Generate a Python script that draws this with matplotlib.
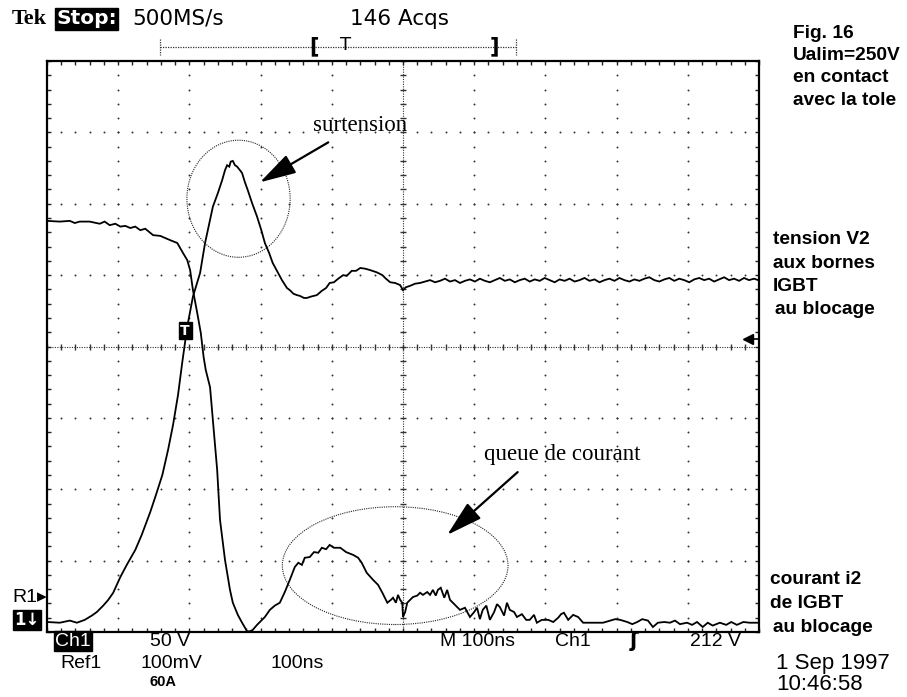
import numpy as np
import matplotlib
matplotlib.use("Agg")
import matplotlib.pyplot as plt
from matplotlib.patches import Ellipse
from matplotlib.lines import Line2D

# ---------------- data (time in ns, screen position in divisions from centre) ----------------
i2_t = [0,18,32,39,46,60,74,81,88,96,
        103,110,117,124,131,138,149,159,166,173,
        183,191,197,201,205,211,216,220,223,229,
        233,239,243,250,257,261,268,274,281,285,
        289,295,302,306,313,320,327,334,341,348,
        353,358,362,369,375,381,386,392,397,403,
        412,420,430,437,442,449,458,465,471,478,
        483,486,490,493,496,499,500,503,506,510,
        514,520,524,528,534,538,542,546,549,553,
        558,562,566,573,580,587,594,600,604,608,
        612,617,622,628,632,636,642,646,650,656,
        660,667,673,678,684,688,695,704,711,718,
        722,726,732,739,746,753,763,772,781,791,
        798,805,815,822,829,836,844,851,858,867,
        875,882,889,899,906,913,921,928,935,945,
        954,961,969,978,987,999]
i2_div = [1.76,1.75,1.76,1.73,1.75,1.75,1.72,1.75,1.70,1.72,
          1.68,1.69,1.66,1.68,1.63,1.65,1.56,1.55,1.52,1.49,
          1.45,1.31,1.21,1.07,0.79,0.47,0.19,-0.15,-0.33,-0.57,
          -1.03,-1.73,-2.43,-2.99,-3.41,-3.59,-3.76,-3.87,-3.99,-3.99,
          -3.97,-3.90,-3.83,-3.79,-3.69,-3.63,-3.59,-3.44,-3.27,-3.09,
          -3.03,-3.06,-2.96,-2.95,-2.88,-2.89,-2.82,-2.84,-2.78,-2.82,
          -2.82,-2.88,-2.92,-2.96,-3.03,-3.17,-3.27,-3.34,-3.45,-3.59,
          -3.55,-3.52,-3.59,-3.48,-3.55,-3.59,-3.79,-3.72,-3.59,-3.55,
          -3.51,-3.49,-3.45,-3.48,-3.44,-3.48,-3.41,-3.49,-3.41,-3.38,
          -3.52,-3.41,-3.55,-3.62,-3.69,-3.66,-3.79,-3.72,-3.66,-3.82,
          -3.69,-3.63,-3.83,-3.72,-3.61,-3.65,-3.77,-3.59,-3.69,-3.72,
          -3.79,-3.75,-3.83,-3.83,-3.76,-3.87,-3.83,-3.83,-3.86,-3.80,
          -3.75,-3.73,-3.83,-3.76,-3.79,-3.87,-3.87,-3.87,-3.87,-3.84,
          -3.82,-3.83,-3.86,-3.89,-3.86,-3.82,-3.84,-3.93,-3.87,-3.86,
          -3.87,-3.84,-3.89,-3.87,-3.90,-3.86,-3.93,-3.87,-3.91,-3.87,
          -3.90,-3.86,-3.90,-3.86,-3.87,-3.87]

v2_t = [0,18,32,42,53,63,70,79,86,93,
        98,103,112,124,133,145,153,162,170,177,
        184,190,197,205,215,222,233,240,246,250,
        253,256,258,261,264,267,271,274,278,282,
        288,295,301,306,312,317,324,330,337,341,
        346,351,355,361,365,371,375,379,386,392,
        397,403,409,416,421,428,434,440,447,454,
        463,471,476,482,489,496,500,504,510,517,
        524,
        531,538,545,552,559,566,573,580,587,594,
        601,608,615,622,629,636,643,650,657,664,
        671,678,685,692,699,706,713,720,727,734,
        741,748,755,762,769,776,783,790,797,804,
        811,818,825,832,839,846,853,860,867,874,
        881,888,895,902,909,916,923,930,937,944,
        951,958,965,972,979,986,993,999]
v2_div = [-3.86,-3.87,-3.84,-3.87,-3.83,-3.77,-3.72,-3.63,-3.55,-3.45,
          -3.34,-3.23,-3.06,-2.85,-2.64,-2.32,-2.08,-1.80,-1.45,-1.10,
          -0.68,-0.22,0.28,0.70,1.03,1.45,1.96,2.15,2.33,2.47,
          2.54,2.52,2.59,2.60,2.54,2.52,2.47,2.43,2.30,2.19,
          2.01,1.82,1.63,1.45,1.31,1.17,1.04,0.93,0.82,0.79,
          0.74,0.72,0.71,0.68,0.68,0.70,0.71,0.72,0.78,0.82,
          0.89,0.90,0.95,1.00,0.99,1.06,1.06,1.10,1.09,1.07,
          1.04,1.00,0.95,0.90,0.89,0.86,0.79,0.83,0.85,0.88,
          0.89,
          0.91,0.93,0.90,0.92,0.95,0.91,0.93,0.89,0.92,0.94,
          0.91,0.95,0.92,0.90,0.93,0.96,0.92,0.94,0.90,0.93,
          0.95,0.91,0.94,0.92,0.96,0.93,0.90,0.94,0.92,0.95,
          0.91,0.93,0.96,0.92,0.94,0.90,0.93,0.95,0.92,0.96,
          0.93,0.91,0.94,0.92,0.95,0.97,0.93,0.91,0.94,0.96,
          0.92,0.95,0.93,0.90,0.94,0.96,0.93,0.95,0.91,0.94,
          0.97,0.93,0.95,0.92,0.96,0.93,0.95,0.93]

trig_t = 194           # trigger point (T marker)
trig_level_div = 0.10  # trigger level arrow on right edge

top_text = ["Tek", "Stop:", "500MS/s", "146 Acqs"]
fig_text = ["Fig. 16", "Ualim=250V", "en contact", "avec la tole"]
v_label = ["tension V2", "aux bornes", "IGBT", "au blocage"]
i_label = ["courant i2", "de IGBT", "au blocage"]
bottom_row1 = ["Ch1", "50 V", "M 100ns", "Ch1", "\u0283", "212 V"]
bottom_row2 = ["Ref1", "100mV", "100ns"]
date_text = ["1 Sep 1997", "10:46:58"]

# ---------------- figure ----------------
W, H = 907, 697
fig = plt.figure(figsize=(W / 100, H / 100), dpi=100, facecolor="white")

def fx(x):
    return x / W

def fy(y):
    return 1 - y / H

L, R, T, B = 47, 759, 61, 632
ax = fig.add_axes([fx(L), fy(B), (R - L) / W, (B - T) / H])
ax.set_xlim(0, 1000)
ax.set_ylim(-4, 4)
for s in ax.spines.values():
    s.set_linewidth(1.6)
    s.set_color("black")

# border minor ticks (5 per division)
ax.set_xticks(np.arange(0, 1001, 20))
ax.set_yticks(np.arange(-4, 4.01, 0.2))
ax.tick_params(direction="in", length=3, width=1, top=True, right=True,
               labelbottom=False, labelleft=False, colors="#222222")

dot_kw = dict(ls="none", marker="o", ms=1.4, mew=0, color="#333333", zorder=1)
ys = np.arange(-4, 4.01, 0.2)
xs = np.arange(0, 1001, 20)
for xv in range(100, 1000, 100):
    if xv == 500:
        continue
    ax.plot([xv] * len(ys), ys, **dot_kw)
for yv in [-3, -2, -1, 1, 2, 3]:
    ax.plot(xs, [yv] * len(xs), **dot_kw)

# centre cross: fine dotted lines with tick marks
ax.plot([0, 1000], [0, 0], ls=(0, (1, 1.2)), lw=0.8, color="#333333", zorder=1)
ax.plot([500, 500], [-4, 4], ls=(0, (1, 1.2)), lw=0.8, color="#333333", zorder=1)
ax.plot(xs, [0] * len(xs), ls="none", marker="|", ms=5, mew=1.0, color="#333333", zorder=1)
ax.plot([500] * len(ys), ys, ls="none", marker="_", ms=5, mew=1.0, color="#333333", zorder=1)

# traces
ax.plot(v2_t, v2_div, color="black", lw=1.3, zorder=3, solid_joinstyle="miter")
ax.plot(i2_t, i2_div, color="black", lw=1.3, zorder=3, solid_joinstyle="miter")

# annotation ellipses and arrows
ax.add_patch(Ellipse((269, 2.07), 145, 1.64, fill=False, ls=(0, (1, 1)), lw=0.8, color="#222222"))
ax.add_patch(Ellipse((489, -3.07), 317, 1.65, fill=False, ls=(0, (1, 1)), lw=0.8, color="#222222"))
arrow_kw = dict(arrowstyle="-|>,head_length=1.6,head_width=0.45", color="black", lw=1.6,
                mutation_scale=14, shrinkA=0, shrinkB=0)
ax.annotate("", xy=(299, 2.30), xytext=(395, 2.86), arrowprops=arrow_kw)
ax.annotate("", xy=(562, -2.64), xytext=(661, -1.76), arrowprops=arrow_kw)
ax.text(440, 3.10, "surtension", family="Liberation Serif", fontsize=16.5, ha="center", va="center")
ax.text(723, -1.52, "queue de courant", family="Liberation Serif", fontsize=16.5, ha="center", va="center")

# trigger marker and level arrow
ax.text(trig_t, 0.22, "T", color="white", fontsize=10, fontweight="bold",
        ha="center", va="center", family="DejaVu Sans",
        bbox=dict(facecolor="black", edgecolor="black", pad=1.2))
ax.plot([985], [trig_level_div], marker="<", ms=7, color="black", zorder=4, clip_on=False)
ax.plot([985, 1000], [trig_level_div, trig_level_div], color="black", lw=1.2, zorder=4)

# ---------------- texts around the screen ----------------
sans = "DejaVu Sans"
fig.text(fx(12), fy(19), top_text[0], fontsize=16, fontweight="bold", family="Liberation Serif",
         va="center", ha="left")
fig.text(fx(56), fy(19), top_text[1], fontsize=14.5, fontweight="bold", family=sans, color="white",
         va="center", ha="left", bbox=dict(facecolor="black", edgecolor="black", pad=1.0))
fig.text(fx(132), fy(19), top_text[2], fontsize=15.5, family=sans, va="center", ha="left")
fig.text(fx(350), fy(19), top_text[3], fontsize=15.5, family=sans, va="center", ha="left")

# record-length bar
bar_y = fy(47)
fig.add_artist(Line2D([fx(160), fx(516)], [bar_y, bar_y], ls=(0, (1, 1)), lw=0.9, color="#333333"))
for xb in (160, 516):
    fig.add_artist(Line2D([fx(xb), fx(xb)], [fy(39), fy(55)], ls=(0, (1, 1)), lw=0.9, color="#333333"))
fig.text(fx(314), fy(46), "[", fontsize=15, fontweight="bold", family=sans, va="center", ha="center")
fig.text(fx(346), fy(45), "T", fontsize=13, family=sans, va="center", ha="center")
fig.text(fx(494), fy(46), "]", fontsize=15, fontweight="bold", family=sans, va="center", ha="center")

lab = dict(fontsize=13.8, fontweight="bold", family="Liberation Sans", va="center", ha="left")
for k, s in enumerate(fig_text):
    fig.text(fx(793), fy(33 + 22.5 * k), s, **lab)
for k, s in enumerate(v_label):
    fig.text(fx(773 + (2 if k == 3 else 0)), fy(240 + 23.3 * k), s, **lab)
for k, s in enumerate(i_label):
    fig.text(fx(770 + (3 if k == 2 else 0)), fy(579 + 24 * k), s, **lab)

cond = dict(fontsize=14, family=["Liberation Sans", "DejaVu Sans"], va="center", ha="left")
fig.text(fx(12), fy(598), "R1\u25B8", **cond)
fig.text(fx(14), fy(620), "1\u2193", color="white", fontsize=12, fontweight="bold", family=sans,
         va="center", ha="left", bbox=dict(facecolor="black", edgecolor="black", pad=0.8))

row1_x = [55, 150, 440, 555, 630, 690]
for k, (xx, s) in enumerate(zip(row1_x, bottom_row1)):
    if k == 0:
        fig.text(fx(xx), fy(641), s, color="white", fontsize=14, family="Liberation Sans",
                 va="center", ha="left", bbox=dict(facecolor="black", edgecolor="black", pad=0.8))
    elif k == 4:
        fig.text(fx(xx), fy(641), s, fontsize=15, fontweight="bold", family=sans, va="center", ha="left")
    else:
        fig.text(fx(xx), fy(641), s, **cond)
row2_x = [60, 140, 270]
for xx, s in zip(row2_x, bottom_row2):
    fig.text(fx(xx), fy(663), s, **cond)
fig.text(fx(150), fy(682), "60A", fontsize=10.5, fontweight="bold", family="Liberation Sans",
         va="center", ha="left")
date_kw = dict(fontsize=16, family="Liberation Sans", va="center", ha="left")
fig.text(fx(776), fy(663), date_text[0], **date_kw)
fig.text(fx(776), fy(685), date_text[1], **date_kw)

fig.savefig("out.png", dpi=100, facecolor="white")
